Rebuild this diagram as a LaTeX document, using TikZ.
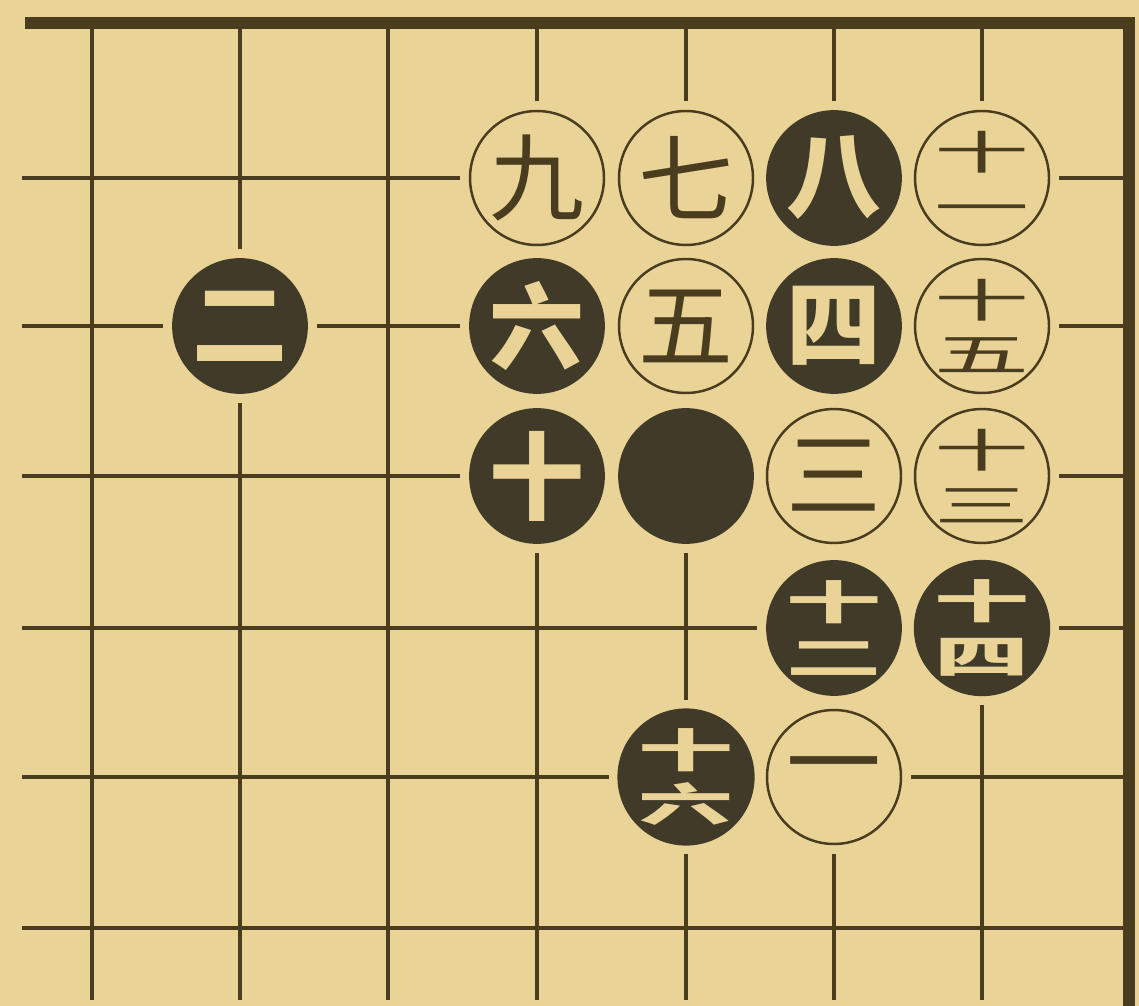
\documentclass[tikz,border=0pt]{standalone}
\usepackage{fontspec}
\usepackage{graphicx}
\newfontfamily\cjk{Noto Sans CJK SC}
\definecolor{paper}{RGB}{234,211,150}
\definecolor{ink}{RGB}{74,60,30}
\definecolor{stoneblk}{RGB}{64,58,40}
\newcommand\stk[2]{\scalebox{1}[0.48]{#1}\\\scalebox{1}[0.48]{#2}}
\begin{document}
\begin{tikzpicture}[x=0.02cm,y=-0.02cm,
  gridline/.style={draw=ink, line width=2.1pt},
  border/.style={draw=ink, line width=6.5pt},
  stone/.style={circle, minimum size=2.68cm, inner sep=0pt, align=center},
  bstone/.style={stone, fill=stoneblk, draw=stoneblk, line width=1pt, text=paper,
    font=\cjk\bfseries\fontsize{54}{31}\selectfont},
  wstone/.style={stone, fill=paper, draw=ink, line width=1.4pt, text=ink,
    font=\cjk\fontsize{54}{31}\selectfont},
  halo/.style={fill=paper}]
\fill[paper] (0,0) rectangle (1139,1006);
\useasboundingbox (0,0) rectangle (1139,1006);
% grid
\foreach \x in {92,240,388,537,686,834,982}
  \draw[gridline] (\x,24) -- (\x,1000);
\foreach \y in {178,326,476,628,777,928}
  \draw[gridline] (22,\y) -- (1126,\y);
% border
\draw[border] (25,23) -- (1129,23) -- (1129,1006);
% halos
\foreach \x/\y in {537/178,686/178,834/178,982/178,240/326,537/326,686/326,834/326,982/326,
  537/476,686/476,834/476,982/476,834/628,982/628,686/777,834/777}
  \fill[halo] (\x,\y) circle[radius=77];
% stones
\node[wstone] (n9)  at (537,178) {九};
\node[wstone] (n7)  at (686,178) {七};
\node[bstone] (n8)  at (834,178) {八};
\node[wstone] (n11) at (982,178) {\stk{十}{一}};
\node[bstone] (n2)  at (240,326) {二};
\node[bstone] (n6)  at (537,326) {六};
\node[wstone] (n5)  at (686,326) {五};
\node[bstone] (n4)  at (834,326) {四};
\node[wstone] (n15) at (982,326) {\stk{十}{五}};
\node[bstone] (n10) at (537,476) {十};
\node[bstone] (n0)  at (686,476) {};
\node[wstone] (n3)  at (834,476) {三};
\node[wstone] (n13) at (982,476) {\stk{十}{三}};
\node[bstone] (n12) at (834,628) {\stk{十}{二}};
\node[bstone] (n14) at (982,628) {\stk{十}{四}};
\node[bstone] (n16) at (686,777) {\stk{十}{六}};
\node[wstone] (n1)  at (834,777) {一};
\end{tikzpicture}
\end{document}
